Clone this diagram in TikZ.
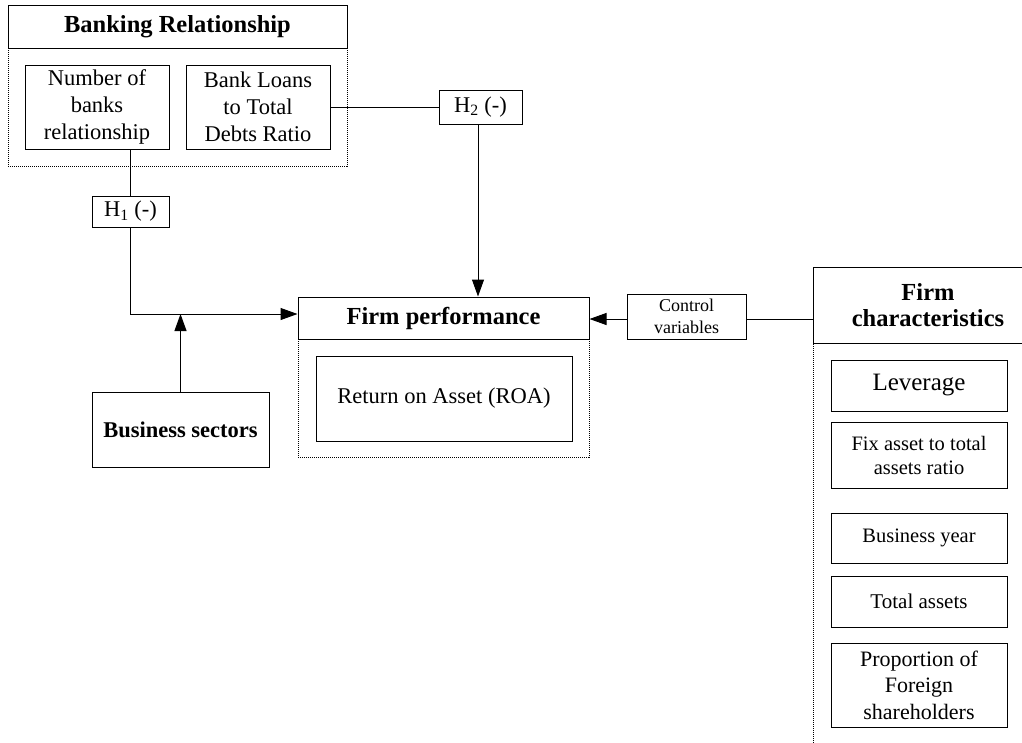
\documentclass[tikz,border=0pt]{standalone}
\usepackage{fontspec}
\setmainfont{Liberation Serif}
\usetikzlibrary{arrows.meta}
\begin{document}
\begin{tikzpicture}[x=1pt,y=-1pt,
  base/.style={line width=1pt, inner sep=0pt, align=center, font=\fontsize{22.5}{27}\selectfont},
  solidbox/.style={base, draw},
  dotbox/.style={draw, line width=0.8pt, dash pattern=on 1pt off 1pt, inner sep=0pt},
  arr/.style={line width=1pt, -{Triangle[length=17pt,width=12pt]}},
  conn/.style={line width=1pt},
  titletext/.style={font=\fontsize{24.5}{25.5}\selectfont\bfseries},
  fcbox/.style={solidbox, minimum width=176pt}
]
\useasboundingbox (0,0) rectangle (1022,742);
\clip (0,0) rectangle (1022,742);
\fill[white] (0,0) rectangle (1022,742);

% Banking relationship group
\node[dotbox, minimum width=339pt, minimum height=161pt] (brgroup) at (177.5,85.5) {};
\node[solidbox, titletext, minimum width=339pt, minimum height=43pt] (brtitle) at (177.5,26.5) {Banking Relationship};
\node[solidbox, minimum width=144pt, minimum height=84pt] (nbr) at (97,107) {Number of\\banks\\relationship};
\node[solidbox, minimum width=144pt, minimum height=84pt] (blt) at (258,107) {Bank Loans\\to Total\\Debts Ratio};

% Hypotheses
\node[solidbox, minimum width=77pt, minimum height=31pt] (h1) at (130.5,211.5) {H\textsubscript{1} (-)};
\node[solidbox, minimum width=83pt, minimum height=34pt] (h2) at (480.5,107) {H\textsubscript{2} (-)};

% Business sectors
\node[solidbox, minimum width=177pt, minimum height=75pt, font=\fontsize{22.5}{27}\selectfont\bfseries] (bs) at (180.5,429.5) {Business sectors};

% Firm performance group
\node[dotbox, minimum width=291pt, minimum height=160pt] (fpgroup) at (443.5,377) {};
\node[solidbox, titletext, minimum width=291pt, minimum height=42pt] (fptitle) at (443.5,318) {Firm performance};
\node[solidbox, minimum width=256pt, minimum height=85pt] (roa) at (444,398.5) {Return on Asset (ROA)};

% Control variables
\node[solidbox, minimum width=119pt, minimum height=45pt, font=\fontsize{18}{22}\selectfont] (cv) at (686.5,316.5) {Control\\variables};

% Firm characteristics group
\node[dotbox, minimum width=230pt, minimum height=513pt] (fcgroup) at (928,523.5) {};
\node[solidbox, titletext, minimum width=230pt, minimum height=76pt] (fctitle) at (928,305) {Firm\\characteristics};
\node[fcbox, minimum height=51pt, font=\fontsize{25}{28}\selectfont] (lev) at (919,385.5) {Leverage};
\node[fcbox, minimum height=66pt, font=\fontsize{20.5}{24}\selectfont] (fix) at (919,455) {Fix asset to total\\assets ratio};
\node[fcbox, minimum height=50pt, font=\fontsize{20.5}{24}\selectfont] (by) at (919,538) {Business year};
\node[fcbox, minimum height=51pt, font=\fontsize{21}{24}\selectfont] (ta) at (919,601.5) {Total assets};
\node[fcbox, minimum height=84pt, font=\fontsize{22}{26.5}\selectfont] (pfs) at (919,685) {Proportion of\\Foreign\\shareholders};

% Connectors
\coordinate (j1) at (130.5,314);
\coordinate (cvline) at (686.5,319);
\draw[conn] (h1.north) -- (h1.north |- nbr.south);
\draw[arr] (h1.south) -- (j1) -- (j1 -| fptitle.west);
\draw[arr] (bs.north) -- (bs.north |- j1);
\draw[conn] (blt.east) -- (h2.west);
\draw[arr] ([xshift=-2.5pt]h2.south) -- ([xshift=-2.5pt]h2.south |- fptitle.north);
\draw[arr] (cvline -| cv.west) -- (cvline -| fptitle.east);
\draw[conn] (cvline -| cv.east) -- (cvline -| fctitle.west);
\end{tikzpicture}
\end{document}
